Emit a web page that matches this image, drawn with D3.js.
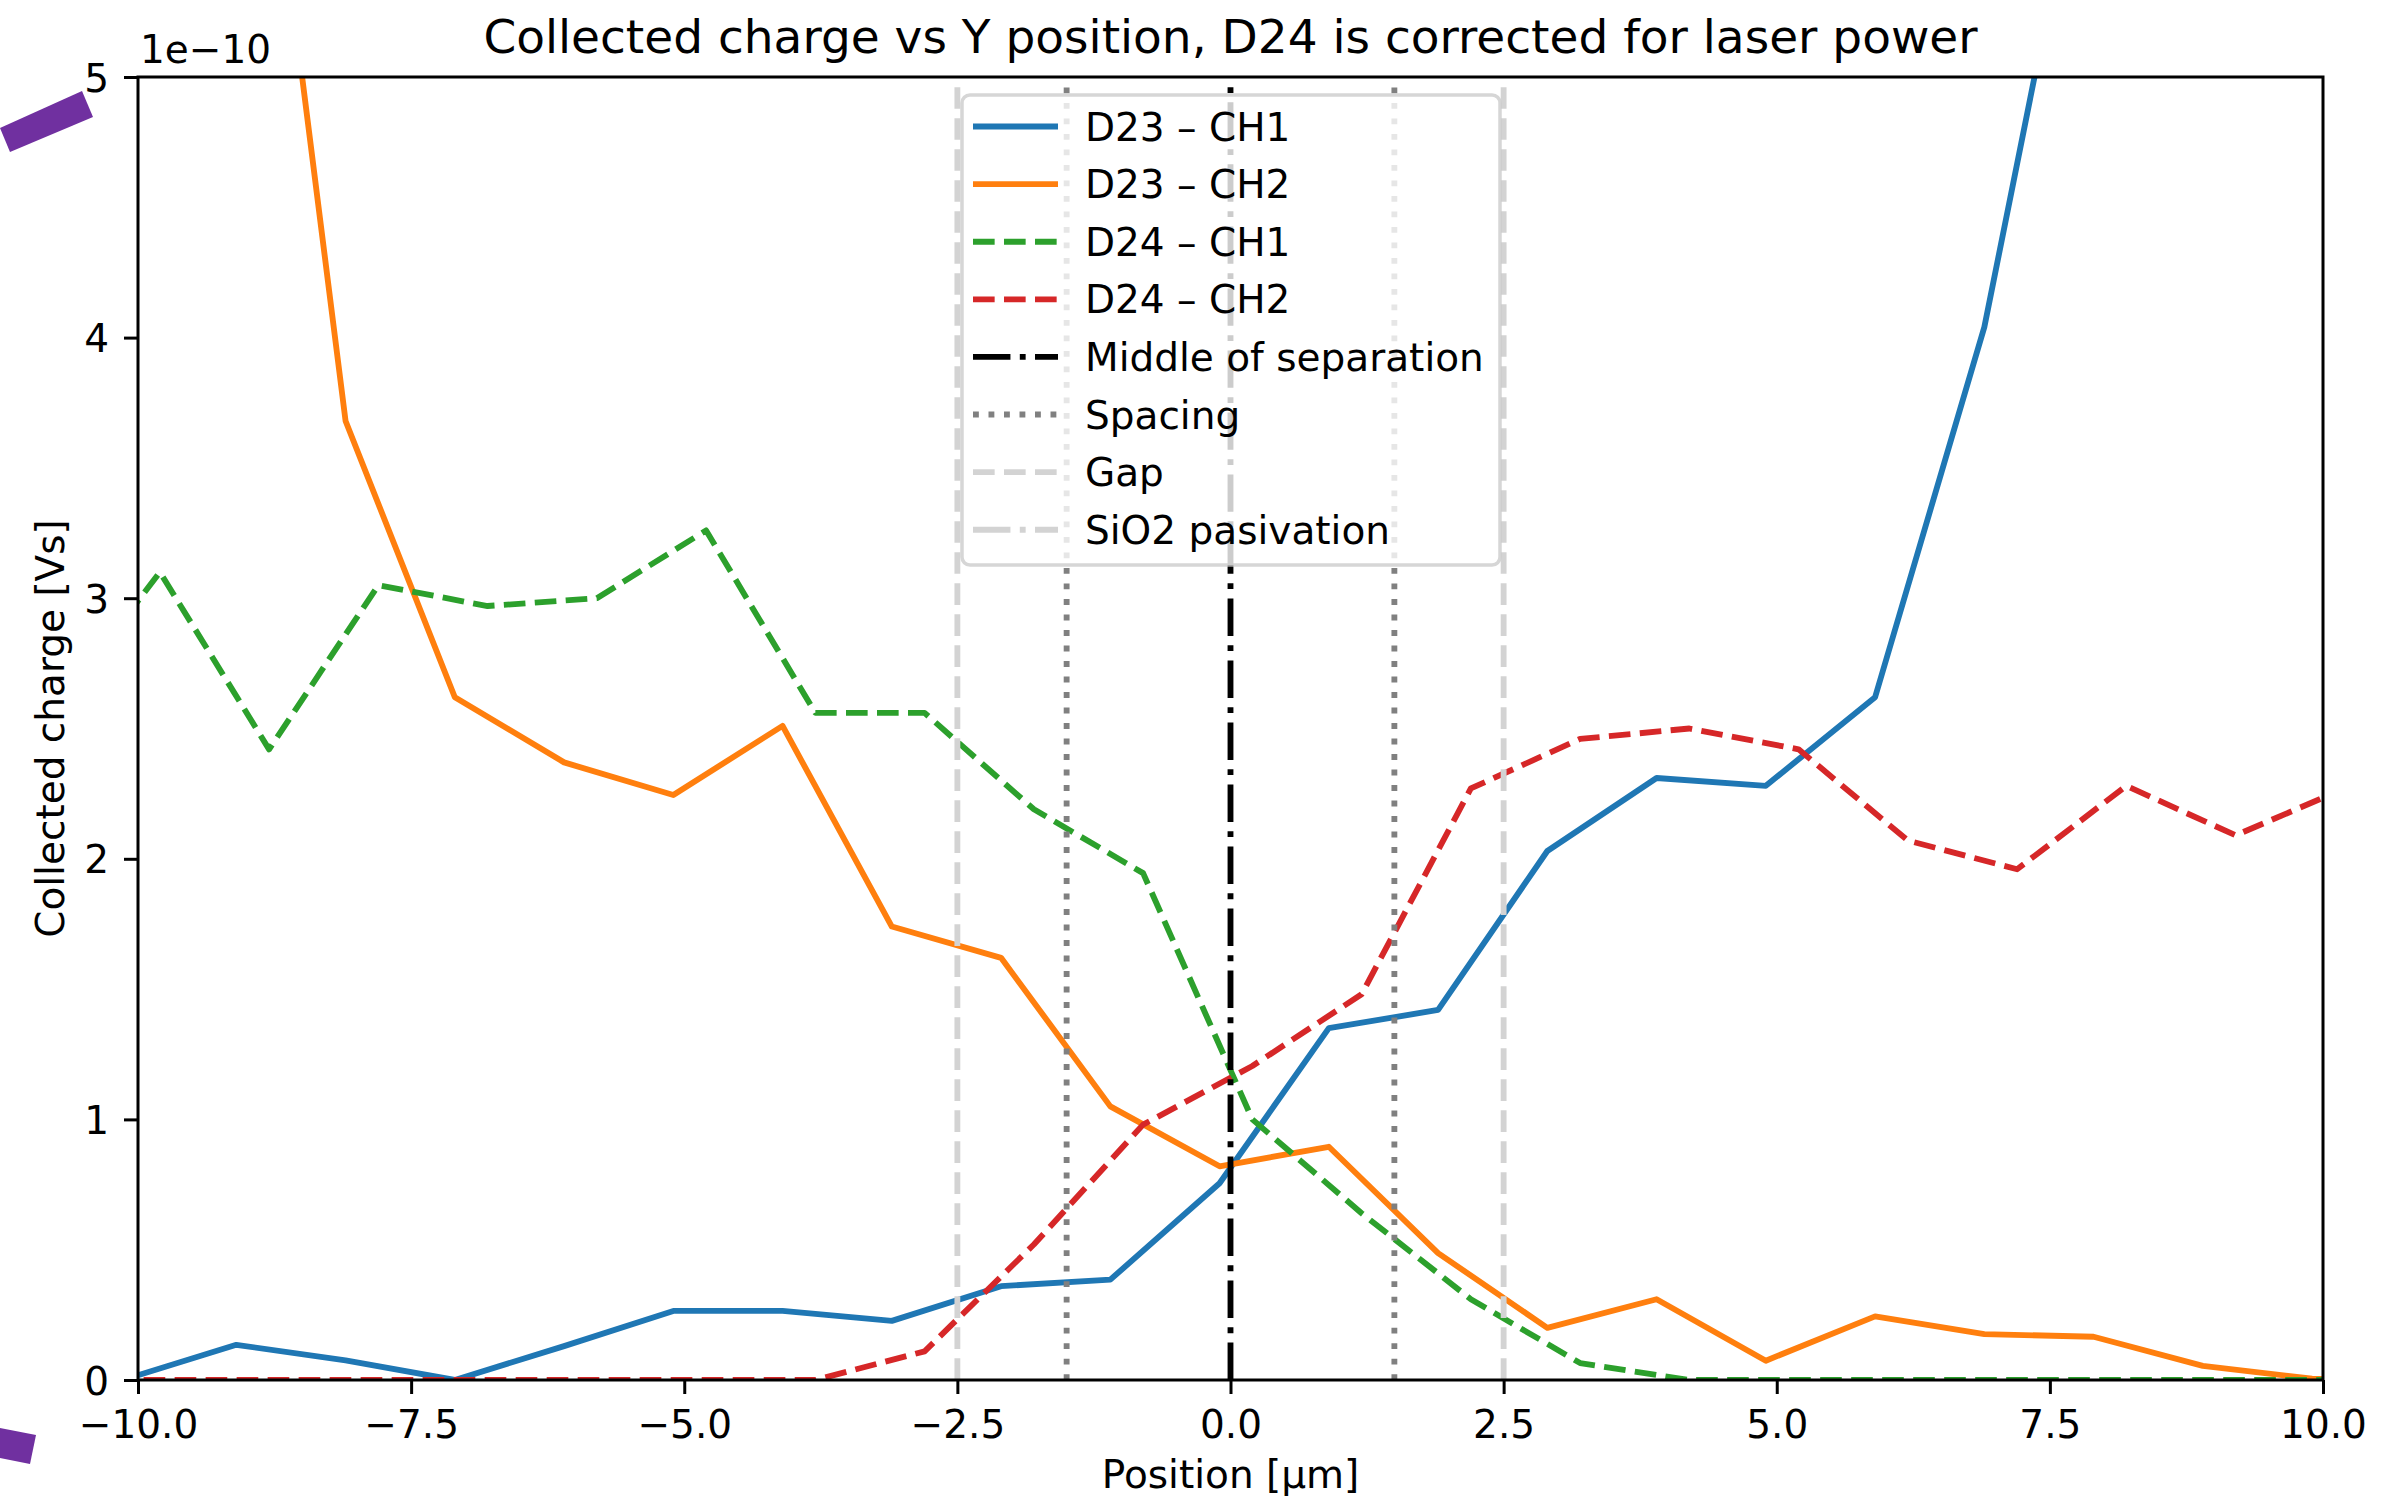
<!DOCTYPE html>
<html>
<head>
<meta charset="utf-8">
<script src="https://cdn.jsdelivr.net/npm/d3@7"></script>
<style>
  html, body { margin: 0; padding: 0; background: #ffffff; }
  svg { display: block; font-family: "DejaVu Sans", sans-serif; }
</style>
</head>
<body>
<svg id="chart" width="2385" height="1501"></svg>
<script>
// ---------------- DATA ----------------
const d23Positions = [-10.1, -9.1, -8.1, -7.1, -6.1, -5.1, -4.1, -3.1, -2.1, -1.1, -0.1,
                      0.9, 1.9, 2.9, 3.9, 4.9, 5.9, 6.9, 7.9, 8.9, 9.9, 10.9];
const d23Ch1 = [0.005, 0.135, 0.075, 0.0, 0.13, 0.265, 0.265, 0.227, 0.36, 0.385, 0.755,
                1.35, 1.42, 2.03, 2.31, 2.28, 2.62, 4.04, 6.13, 7.0, 7.5, 7.8];
const d23Ch2 = [7.6, 7.0, 3.68, 2.62, 2.37, 2.245, 2.51, 1.74, 1.62, 1.05, 0.82,
                0.895, 0.487, 0.20, 0.31, 0.074, 0.244, 0.176, 0.166, 0.054, 0.005, 0.0];

const d24Positions = [-10.8, -9.8, -8.8, -7.8, -6.8, -5.8, -4.8, -3.8, -2.8, -1.8, -0.8,
                      0.2, 1.2, 2.2, 3.2, 4.2, 5.2, 6.2, 7.2, 8.2, 9.2, 10.2];
const d24Ch1 = [2.55, 3.10, 2.42, 3.05, 2.97, 3.0, 3.26, 2.56, 2.56, 2.19, 1.945,
                1.0, 0.64, 0.31, 0.065, 0, 0, 0, 0, 0, 0, 0];
const d24Ch2 = [0, 0, 0, 0, 0, 0, 0, 0, 0.11, 0.52, 0.98,
                1.205, 1.48, 2.27, 2.46, 2.50, 2.42, 2.07, 1.96, 2.28, 2.09, 2.27];

const middlePositions = [0];
const spacingPositions = [-1.5, 1.5];
const gapPositions = [-2.5, 2.5];
const sio2Positions = [];   // drawn only in the legend (not visible inside the range)

const xTicks = [-10, -7.5, -5, -2.5, 0, 2.5, 5, 7.5, 10];
const xTickLabels = ["\u221210.0", "\u22127.5", "\u22125.0", "\u22122.5", "0.0", "2.5", "5.0", "7.5", "10.0"];
const yTicks = [0, 1, 2, 3, 4, 5];
const yTickLabels = ["0", "1", "2", "3", "4", "5"];

const seriesNames = ["D23 \u2013 CH1", "D23 \u2013 CH2", "D24 \u2013 CH1", "D24 \u2013 CH2",
                     "Middle of separation", "Spacing", "Gap", "SiO2 pasivation"];

// ---------------- LAYOUT / STYLE ----------------
const W = 2385, H = 1501;
const L = 138, R = 2323, T = 77, B = 1380;
const LW = 5.85;
const PT = 3.9; // px per pt
const FS = 39;
const dashed = [3.7 * 1.5 * PT, 1.6 * 1.5 * PT].join(",");
const dotted = [1 * 1.5 * PT, 1.65 * 1.5 * PT].join(",");
const dashdot = [6.4 * 1.5 * PT, 1.6 * 1.5 * PT, 1 * 1.5 * PT, 1.6 * 1.5 * PT].join(",");

const styles = [
  { color: "#1f77b4", dash: null },
  { color: "#ff7f0e", dash: null },
  { color: "#2ca02c", dash: dashed },
  { color: "#d62728", dash: dashed },
  { color: "#000000", dash: dashdot },
  { color: "#808080", dash: dotted },
  { color: "#d3d3d3", dash: dashed },
  { color: "#d3d3d3", dash: dashdot }
];

const svg = d3.select("#chart");
svg.append("rect").attr("width", W).attr("height", H).attr("fill", "#ffffff");

const x = d3.scaleLinear().domain([-10, 10]).range([L, R]);
const y = d3.scaleLinear().domain([0, 5]).range([B, T]);

svg.append("defs").append("clipPath").attr("id", "plotclip")
  .append("rect").attr("x", L).attr("y", T).attr("width", R - L).attr("height", B - T);

const plot = svg.append("g").attr("clip-path", "url(#plotclip)");

const lineGen = d3.line().x(d => x(d[0])).y(d => y(d[1]));

const dataSeries = [
  { pos: d23Positions, vals: d23Ch1, s: styles[0] },
  { pos: d23Positions, vals: d23Ch2, s: styles[1] },
  { pos: d24Positions, vals: d24Ch1, s: styles[2] },
  { pos: d24Positions, vals: d24Ch2, s: styles[3] }
];

dataSeries.forEach(ser => {
  const pts = ser.pos.map((p, i) => [p, ser.vals[i]]);
  plot.append("path")
    .attr("d", lineGen(pts))
    .attr("fill", "none")
    .attr("stroke", ser.s.color)
    .attr("stroke-width", LW)
    .attr("stroke-linejoin", "round")
    .attr("stroke-linecap", ser.s.dash ? "butt" : "square")
    .attr("stroke-dasharray", ser.s.dash);
});

const vSets = [
  { pos: middlePositions, s: styles[4] },
  { pos: spacingPositions, s: styles[5] },
  { pos: gapPositions, s: styles[6] },
  { pos: sio2Positions, s: styles[7] }
];
vSets.forEach(vs => {
  vs.pos.forEach(p => {
    plot.append("line")
      .attr("x1", x(p)).attr("x2", x(p))
      .attr("y1", y(0)).attr("y2", y(5))
      .attr("stroke", vs.s.color)
      .attr("stroke-width", LW)
      .attr("stroke-linecap", "butt")
      .attr("stroke-dasharray", vs.s.dash);
  });
});

// ---------------- AXES ----------------
const xAxis = d3.axisBottom(x).tickValues(xTicks).tickSize(14).tickPadding(16)
  .tickFormat((d, i) => xTickLabels[i]);
const gx = svg.append("g").attr("transform", `translate(0,${B})`).call(xAxis);
const yAxis = d3.axisLeft(y).tickValues(yTicks).tickSize(14).tickPadding(15)
  .tickFormat((d, i) => yTickLabels[i]);
const gy = svg.append("g").attr("transform", `translate(${L},0)`).call(yAxis);

[gx, gy].forEach(g => {
  g.select(".domain").remove();
  g.selectAll(".tick line").attr("stroke", "#000").attr("stroke-width", 3);
  g.selectAll(".tick text").attr("fill", "#000").style("font-size", FS + "px")
    .style("font-family", "DejaVu Sans");
});
gy.selectAll(".tick text").attr("dy", "0.36em");

svg.append("rect")
  .attr("x", L).attr("y", T).attr("width", R - L).attr("height", B - T)
  .attr("fill", "none").attr("stroke", "#000").attr("stroke-width", 3);

// offset text
svg.append("text").attr("x", 140).attr("y", 63).attr("font-size", FS).attr("fill", "#000")
  .text("1e\u221210");

// title
svg.append("text").attr("x", (L + R) / 2).attr("y", 53).attr("text-anchor", "middle")
  .attr("font-size", 47).attr("fill", "#000")
  .text("Collected charge vs Y position, D24 is corrected for laser power");

// axis labels
svg.append("text").attr("x", (L + R) / 2).attr("y", 1488).attr("text-anchor", "middle")
  .attr("font-size", FS).attr("fill", "#000").text("Position [\u00b5m]");
svg.append("text").attr("transform", `translate(64,${(T + B) / 2}) rotate(-90)`)
  .attr("text-anchor", "middle").attr("font-size", FS).attr("fill", "#000")
  .text("Collected charge [Vs]");

// ---------------- LEGEND ----------------
const lg = svg.append("g");
lg.append("rect")
  .attr("x", 962).attr("y", 95).attr("width", 1500 - 962).attr("height", 565 - 95)
  .attr("rx", 8).attr("ry", 8)
  .attr("fill", "#ffffff").attr("fill-opacity", 0.8)
  .attr("stroke", "#cccccc").attr("stroke-opacity", 0.8).attr("stroke-width", 3.5);

const legendY0 = 126.5, legendDY = 57.6;
seriesNames.forEach((name, i) => {
  const cy = legendY0 + i * legendDY;
  lg.append("line")
    .attr("x1", 973).attr("x2", 1058).attr("y1", cy).attr("y2", cy)
    .attr("stroke", styles[i].color).attr("stroke-width", LW)
    .attr("stroke-linecap", "butt")
    .attr("stroke-dasharray", styles[i].dash);
  lg.append("text").attr("x", 1085).attr("y", cy + 14)
    .attr("font-size", FS).attr("fill", "#000").text(name);
});

// ---------------- page decorations (purple marks at the left edge) ----------------
svg.append("polygon").attr("points", "0,128 82,91 93,117 10,152").attr("fill", "#7030a0");
svg.append("polygon").attr("points", "0,1428 36,1435 30,1464 0,1458").attr("fill", "#7030a0");
</script>
</body>
</html>
